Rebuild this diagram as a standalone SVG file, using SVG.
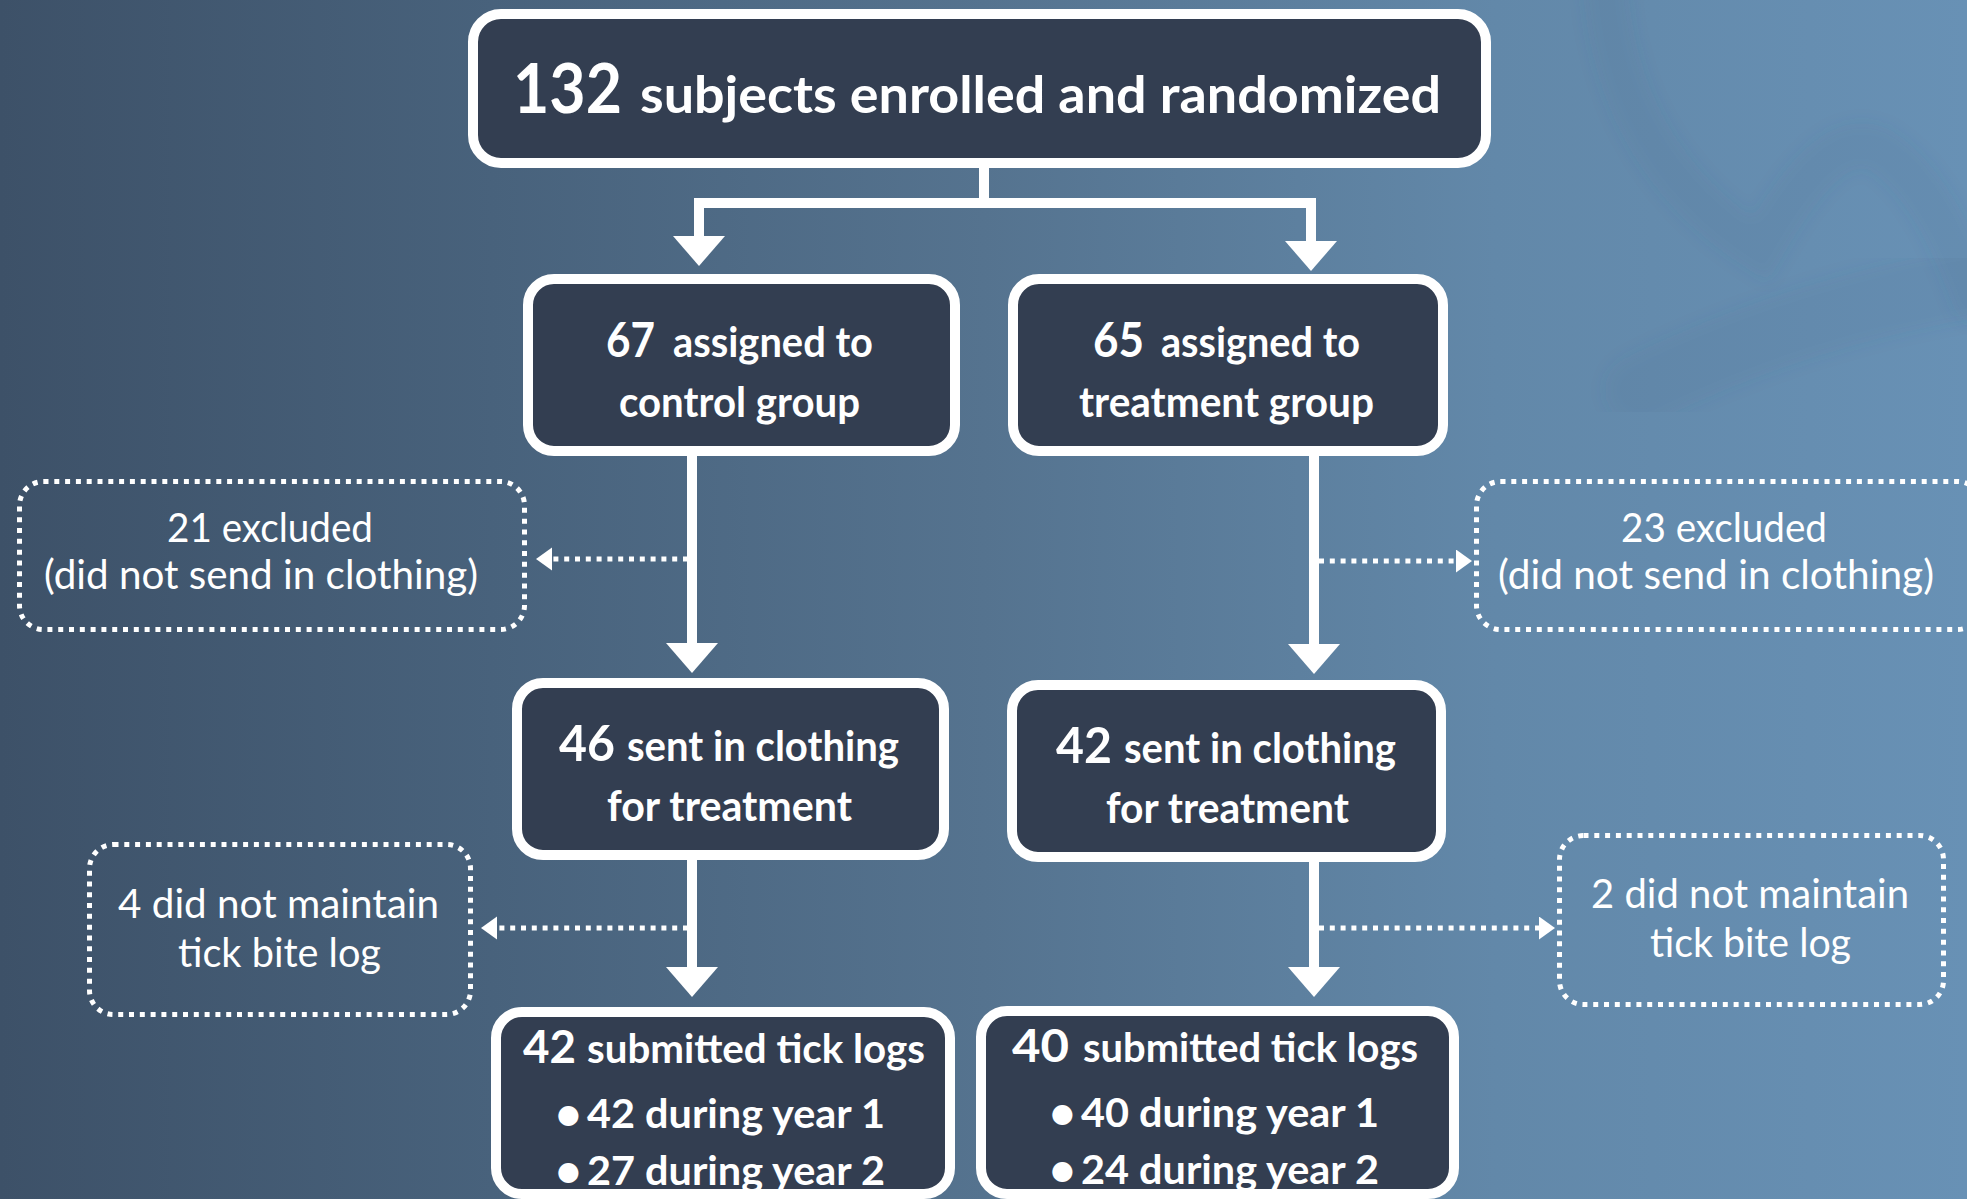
<svg xmlns="http://www.w3.org/2000/svg" width="1967" height="1199" viewBox="0 0 1967 1199">
  <defs>
    <linearGradient id="bg" x1="0" y1="0" x2="1" y2="0">
      <stop offset="0" stop-color="#3d5168"/>
      <stop offset="0.25" stop-color="#48627c"/>
      <stop offset="0.5" stop-color="#55738f"/>
      <stop offset="0.76" stop-color="#6288a9"/>
      <stop offset="1" stop-color="#6891b5"/>
    </linearGradient>
    <filter id="soft" x="-20%" y="-20%" width="140%" height="140%">
      <feGaussianBlur stdDeviation="8"/>
    </filter>
    <marker id="arrow" markerUnits="userSpaceOnUse" markerWidth="32" markerHeight="52" refX="1" refY="26" orient="auto">
      <path d="M0,0 L30,26 L0,52 Z" fill="#fff"/>
    </marker>
    <marker id="darrow" markerUnits="userSpaceOnUse" markerWidth="18" markerHeight="24" refX="0" refY="11.5" orient="auto">
      <path d="M0,0 L16,11.5 L0,23 Z" fill="#fff"/>
    </marker>
    <style>
      .node { fill: #333e51; stroke: #ffffff; stroke-width: 10; }
      .excl { fill: none; stroke: #ffffff; stroke-width: 5; stroke-dasharray: 5 5.8; }
      .b { font-family: Lato, "Open Sans", "Liberation Sans", sans-serif; font-weight: 700; fill: #ffffff; }
      .r { font-family: Lato, "Open Sans", "Liberation Sans", sans-serif; font-weight: 400; fill: #ffffff; font-size: 41px; }
      .solid { fill: none; stroke: #ffffff; stroke-width: 10; stroke-linejoin: miter; }
      .dotted { fill: none; stroke: #ffffff; stroke-width: 5; stroke-dasharray: 5 5.8; }
      .deco { fill: none; stroke: #3c5f80; stroke-opacity: 0.08; stroke-linecap: round; filter: url(#soft); }
    </style>
  </defs>

  <rect x="0" y="0" width="1967" height="1199" fill="url(#bg)"/>
  <path class="deco" stroke-width="45" d="M1605,-20 C1610,80 1650,180 1760,250 C1800,180 1840,130 1880,150 C1920,175 1950,230 1975,300"/>
  <path class="deco" stroke-width="70" d="M1640,390 C1740,340 1860,300 1990,280"/>

  <g id="connectors">
    <path class="solid" d="M984,168 V203 H699 V237" marker-end="url(#arrow)"/>
    <path class="solid" d="M984,203 H1311 V242" marker-end="url(#arrow)"/>
    <path class="solid" d="M692,455 V644" marker-end="url(#arrow)"/>
    <path class="solid" d="M1314,455 V645" marker-end="url(#arrow)"/>
    <path class="solid" d="M692,860 V968" marker-end="url(#arrow)"/>
    <path class="solid" d="M1314,862 V968" marker-end="url(#arrow)"/>
    <path class="dotted" d="M688,559 H552" marker-end="url(#darrow)"/>
    <path class="dotted" d="M1319,561 H1456" marker-end="url(#darrow)"/>
    <path class="dotted" d="M688,928 H497" marker-end="url(#darrow)"/>
    <path class="dotted" d="M1319,928 H1539" marker-end="url(#darrow)"/>
  </g>

  <g id="enrolled">
    <rect class="node" x="473" y="14" width="1013" height="149" rx="28"/>
    <text class="b" y="113"><tspan x="513" font-size="68" textLength="109" lengthAdjust="spacingAndGlyphs">132</tspan><tspan x="640" font-size="51" textLength="801" lengthAdjust="spacingAndGlyphs">subjects enrolled and randomized</tspan></text>
  </g>

  <g id="control">
    <rect class="node" x="528" y="279" width="427" height="172" rx="26"/>
    <text class="b" y="357"><tspan x="606" font-size="48" textLength="49" lengthAdjust="spacingAndGlyphs">67</tspan><tspan x="673" font-size="42" textLength="200" lengthAdjust="spacingAndGlyphs">assigned to</tspan></text>
    <text class="b" x="619" y="417" font-size="42" textLength="241" lengthAdjust="spacingAndGlyphs">control group</text>
  </g>

  <g id="treatment">
    <rect class="node" x="1013" y="279" width="430" height="172" rx="26"/>
    <text class="b" y="357"><tspan x="1093" font-size="48" textLength="51" lengthAdjust="spacingAndGlyphs">65</tspan><tspan x="1161" font-size="42" textLength="199" lengthAdjust="spacingAndGlyphs">assigned to</tspan></text>
    <text class="b" x="1079" y="417" font-size="42" textLength="295" lengthAdjust="spacingAndGlyphs">treatment group</text>
  </g>

  <g id="excluded-control">
    <rect class="excl" x="19.5" y="481.5" width="505" height="148" rx="24"/>
    <text class="r" x="167" y="542" textLength="206" lengthAdjust="spacingAndGlyphs">21 excluded</text>
    <text class="r" x="44" y="589" textLength="434" lengthAdjust="spacingAndGlyphs">(did not send in clothing)</text>
  </g>

  <g id="excluded-treatment">
    <rect class="excl" x="1476.5" y="481.5" width="505" height="148" rx="24"/>
    <text class="r" x="1621" y="542" textLength="206" lengthAdjust="spacingAndGlyphs">23 excluded</text>
    <text class="r" x="1498" y="589" textLength="436" lengthAdjust="spacingAndGlyphs">(did not send in clothing)</text>
  </g>

  <g id="sent-control">
    <rect class="node" x="517" y="683" width="427" height="172" rx="26"/>
    <text class="b" y="761"><tspan x="559" font-size="50" textLength="56" lengthAdjust="spacingAndGlyphs">46</tspan><tspan x="627" font-size="42" textLength="272" lengthAdjust="spacingAndGlyphs">sent in clothing</tspan></text>
    <text class="b" x="607" y="821" font-size="42" textLength="245" lengthAdjust="spacingAndGlyphs">for treatment</text>
  </g>

  <g id="sent-treatment">
    <rect class="node" x="1012" y="685" width="429" height="172" rx="26"/>
    <text class="b" y="763"><tspan x="1056" font-size="50" textLength="56" lengthAdjust="spacingAndGlyphs">42</tspan><tspan x="1124" font-size="42" textLength="272" lengthAdjust="spacingAndGlyphs">sent in clothing</tspan></text>
    <text class="b" x="1106" y="823" font-size="42" textLength="243" lengthAdjust="spacingAndGlyphs">for treatment</text>
  </g>

  <g id="nolog-control">
    <rect class="excl" x="89.5" y="844.5" width="381" height="170" rx="24"/>
    <text class="r" x="118" y="918" textLength="321" lengthAdjust="spacingAndGlyphs">4 did not maintain</text>
    <text class="r" x="178" y="967" textLength="203" lengthAdjust="spacingAndGlyphs">tick bite log</text>
  </g>

  <g id="nolog-treatment">
    <rect class="excl" x="1559.5" y="835.5" width="384" height="169" rx="24"/>
    <text class="r" x="1591" y="908" textLength="318" lengthAdjust="spacingAndGlyphs">2 did not maintain</text>
    <text class="r" x="1650" y="957" textLength="201" lengthAdjust="spacingAndGlyphs">tick bite log</text>
  </g>

  <g id="logs-control">
    <rect class="node" x="496" y="1012" width="454" height="182" rx="26"/>
    <text class="b" y="1063"><tspan x="523" font-size="45" textLength="53" lengthAdjust="spacingAndGlyphs">42</tspan><tspan x="587" font-size="40" textLength="338" lengthAdjust="spacingAndGlyphs">submitted tick logs</tspan></text>
    <text class="b" x="555" y="1130" font-size="46">•</text>
    <text class="b" x="587" y="1128" font-size="40" textLength="298" lengthAdjust="spacingAndGlyphs">42 during year 1</text>
    <text class="b" x="555" y="1187" font-size="46">•</text>
    <text class="b" x="587" y="1185" font-size="40" textLength="298" lengthAdjust="spacingAndGlyphs">27 during year 2</text>
  </g>

  <g id="logs-treatment">
    <rect class="node" x="981" y="1011" width="473" height="183" rx="26"/>
    <text class="b" y="1062"><tspan x="1012" font-size="45" textLength="57" lengthAdjust="spacingAndGlyphs">40</tspan><tspan x="1083" font-size="40" textLength="335" lengthAdjust="spacingAndGlyphs">submitted tick logs</tspan></text>
    <text class="b" x="1049" y="1129" font-size="46">•</text>
    <text class="b" x="1081" y="1127" font-size="40" textLength="298" lengthAdjust="spacingAndGlyphs">40 during year 1</text>
    <text class="b" x="1049" y="1186" font-size="46">•</text>
    <text class="b" x="1081" y="1184" font-size="40" textLength="298" lengthAdjust="spacingAndGlyphs">24 during year 2</text>
  </g>
</svg>
